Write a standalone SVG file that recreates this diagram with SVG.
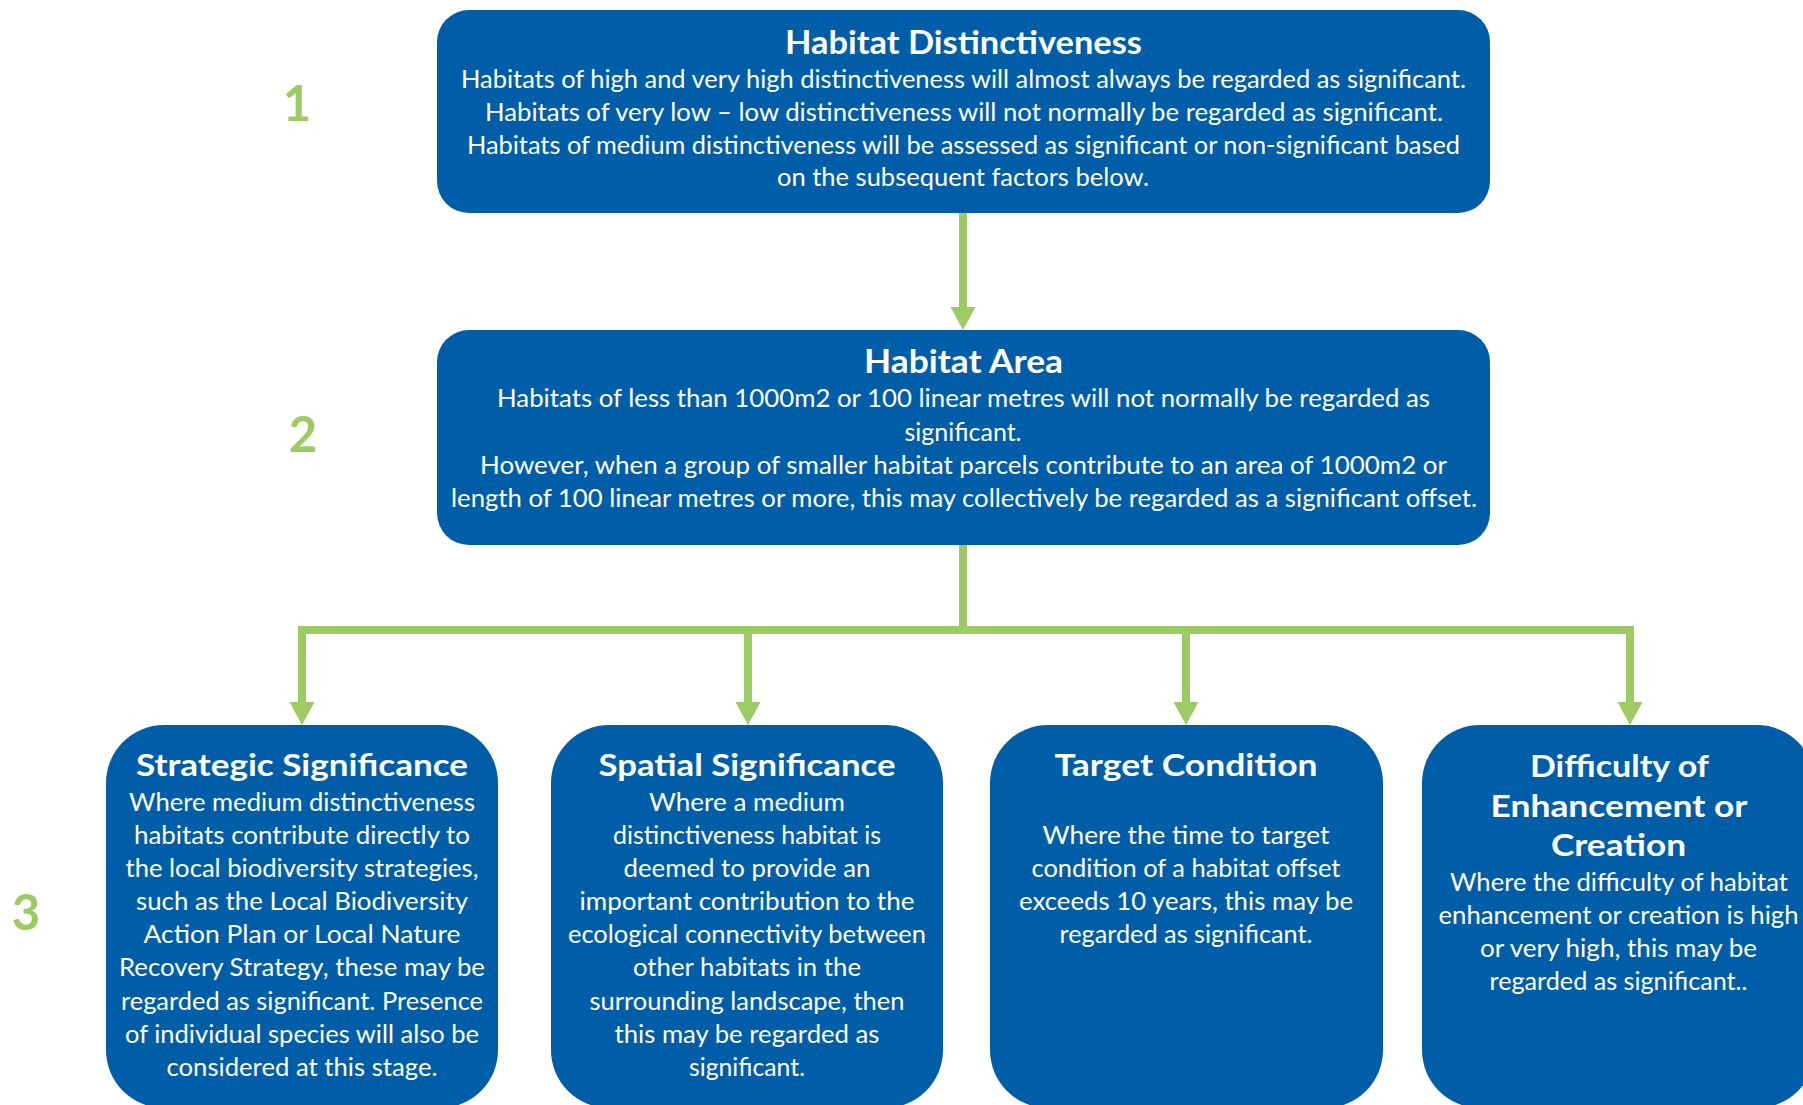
<svg xmlns="http://www.w3.org/2000/svg" width="1803" height="1105" viewBox="0 0 1803 1105">
<style>
.box{fill:#005EA8}
.t{font-family:Lato,"Open Sans","Liberation Sans",sans-serif;fill:#ffffff;text-anchor:middle}
.h{font-weight:700;font-size:32px}
.hs{font-weight:700;font-size:31px}
.b{font-size:25px}
.num{font-family:Lato,"Open Sans","Liberation Sans",sans-serif;font-weight:700;font-size:49px;fill:#9BCB62;text-anchor:middle}
.con{fill:none;stroke:#9BCB62;stroke-width:8;stroke-linejoin:miter}
</style>
<defs>
<marker id="ah" markerUnits="userSpaceOnUse" markerWidth="24" markerHeight="26" viewBox="0 0 24 26" refX="1" refY="12.5" orient="auto">
<path d="M0,0 L23,12.5 L0,25 z" fill="#9BCB62"/>
</marker>
</defs>
<rect width="1803" height="1105" fill="#ffffff"/>

<g id="numbers">
<text class="num" x="297" y="121">1</text>
<text class="num" x="303" y="452">2</text>
<text class="num" x="26" y="930">3</text>
</g>

<g id="connectors">
<path class="con" d="M963,213 V308" marker-end="url(#ah)"/>
<path class="con" d="M963,545 V630"/>
<path class="con" d="M963,630 H302 V703" marker-end="url(#ah)"/>
<path class="con" d="M963,630 H748 V703" marker-end="url(#ah)"/>
<path class="con" d="M963,630 H1186 V703" marker-end="url(#ah)"/>
<path class="con" d="M963,630 H1630 V703" marker-end="url(#ah)"/>
</g>

<g id="habitat-distinctiveness">
<rect class="box" x="437" y="10" width="1053" height="203" rx="32"/>
<text class="t h" x="963.5" y="53.5" textLength="357" lengthAdjust="spacingAndGlyphs">Habitat Distinctiveness</text>
<text class="t b" x="963.5" y="87.5" textLength="1005" lengthAdjust="spacingAndGlyphs">Habitats of high and very high distinctiveness will almost always be regarded as significant.</text>
<text class="t b" x="964" y="120.7" textLength="958" lengthAdjust="spacingAndGlyphs">Habitats of very low – low distinctiveness will not normally be regarded as significant.</text>
<text class="t b" x="963.5" y="153.6" textLength="993" lengthAdjust="spacingAndGlyphs">Habitats of medium distinctiveness will be assessed as significant or non-significant based</text>
<text class="t b" x="963" y="186.4" textLength="372" lengthAdjust="spacingAndGlyphs">on the subsequent factors below.</text>
</g>

<g id="habitat-area">
<rect class="box" x="437" y="330" width="1053" height="215" rx="32"/>
<text class="t h" x="963.5" y="373.2" textLength="199" lengthAdjust="spacingAndGlyphs">Habitat Area</text>
<text class="t b" x="963.5" y="407.1" textLength="933" lengthAdjust="spacingAndGlyphs">Habitats of less than 1000m2 or 100 linear metres will not normally be regarded as</text>
<text class="t b" x="963" y="441" textLength="117" lengthAdjust="spacingAndGlyphs">significant.</text>
<text class="t b" x="963.5" y="474.3" textLength="967" lengthAdjust="spacingAndGlyphs">However, when a group of smaller habitat parcels contribute to an area of 1000m2 or</text>
<text class="t b" x="964" y="507.1" textLength="1026" lengthAdjust="spacingAndGlyphs">length of 100 linear metres or more, this may collectively be regarded as a significant offset.</text>
</g>

<g id="strategic-significance">
<rect class="box" x="106" y="725" width="392" height="383" rx="58"/>
<text class="t hs" x="302" y="776" textLength="332" lengthAdjust="spacingAndGlyphs">Strategic Significance</text>
<text class="t b" x="302" y="811" textLength="346" lengthAdjust="spacingAndGlyphs">Where medium distinctiveness</text>
<text class="t b" x="302" y="844" textLength="336" lengthAdjust="spacingAndGlyphs">habitats contribute directly to</text>
<text class="t b" x="302" y="877" textLength="353" lengthAdjust="spacingAndGlyphs">the local biodiversity strategies,</text>
<text class="t b" x="302" y="910" textLength="332" lengthAdjust="spacingAndGlyphs">such as the Local Biodiversity</text>
<text class="t b" x="302" y="943" textLength="317" lengthAdjust="spacingAndGlyphs">Action Plan or Local Nature</text>
<text class="t b" x="302" y="976" textLength="366" lengthAdjust="spacingAndGlyphs">Recovery Strategy, these may be</text>
<text class="t b" x="302" y="1009.5" textLength="362" lengthAdjust="spacingAndGlyphs">regarded as significant. Presence</text>
<text class="t b" x="302" y="1043" textLength="354" lengthAdjust="spacingAndGlyphs">of individual species will also be</text>
<text class="t b" x="302" y="1076" textLength="271" lengthAdjust="spacingAndGlyphs">considered at this stage.</text>
</g>

<g id="spatial-significance">
<rect class="box" x="551" y="725" width="392" height="383" rx="58"/>
<text class="t hs" x="747" y="776" textLength="297" lengthAdjust="spacingAndGlyphs">Spatial Significance</text>
<text class="t b" x="747" y="811" textLength="196" lengthAdjust="spacingAndGlyphs">Where a medium</text>
<text class="t b" x="747" y="844" textLength="268" lengthAdjust="spacingAndGlyphs">distinctiveness habitat is</text>
<text class="t b" x="747" y="877" textLength="247" lengthAdjust="spacingAndGlyphs">deemed to provide an</text>
<text class="t b" x="747" y="910" textLength="335" lengthAdjust="spacingAndGlyphs">important contribution to the</text>
<text class="t b" x="747" y="943" textLength="358" lengthAdjust="spacingAndGlyphs">ecological connectivity between</text>
<text class="t b" x="747" y="976" textLength="228" lengthAdjust="spacingAndGlyphs">other habitats in the</text>
<text class="t b" x="747" y="1009.5" textLength="315" lengthAdjust="spacingAndGlyphs">surrounding landscape, then</text>
<text class="t b" x="747" y="1043" textLength="265" lengthAdjust="spacingAndGlyphs">this may be regarded as</text>
<text class="t b" x="747" y="1076" textLength="116" lengthAdjust="spacingAndGlyphs">significant.</text>
</g>

<g id="target-condition">
<rect class="box" x="990" y="725" width="393" height="383" rx="58"/>
<text class="t hs" x="1186" y="776" textLength="263" lengthAdjust="spacingAndGlyphs">Target Condition</text>
<text class="t b" x="1186" y="844" textLength="287" lengthAdjust="spacingAndGlyphs">Where the time to target</text>
<text class="t b" x="1186" y="877" textLength="309" lengthAdjust="spacingAndGlyphs">condition of a habitat offset</text>
<text class="t b" x="1186" y="910" textLength="334" lengthAdjust="spacingAndGlyphs">exceeds 10 years, this may be</text>
<text class="t b" x="1186" y="943" textLength="253" lengthAdjust="spacingAndGlyphs">regarded as significant.</text>
</g>

<g id="difficulty-of-enhancement">
<rect class="box" x="1422" y="725" width="393" height="383" rx="58"/>
<text class="t hs" x="1619.5" y="777" textLength="179" lengthAdjust="spacingAndGlyphs">Difficulty of</text>
<text class="t hs" x="1619" y="816.5" textLength="257" lengthAdjust="spacingAndGlyphs">Enhancement or</text>
<text class="t hs" x="1618.5" y="856" textLength="135" lengthAdjust="spacingAndGlyphs">Creation</text>
<text class="t b" x="1619" y="890.5" textLength="338" lengthAdjust="spacingAndGlyphs">Where the difficulty of habitat</text>
<text class="t b" x="1618.5" y="923.5" textLength="360" lengthAdjust="spacingAndGlyphs">enhancement or creation is high</text>
<text class="t b" x="1618.5" y="956.5" textLength="277" lengthAdjust="spacingAndGlyphs">or very high, this may be</text>
<text class="t b" x="1618.5" y="989.5" textLength="258" lengthAdjust="spacingAndGlyphs">regarded as significant..</text>
</g>
</svg>
